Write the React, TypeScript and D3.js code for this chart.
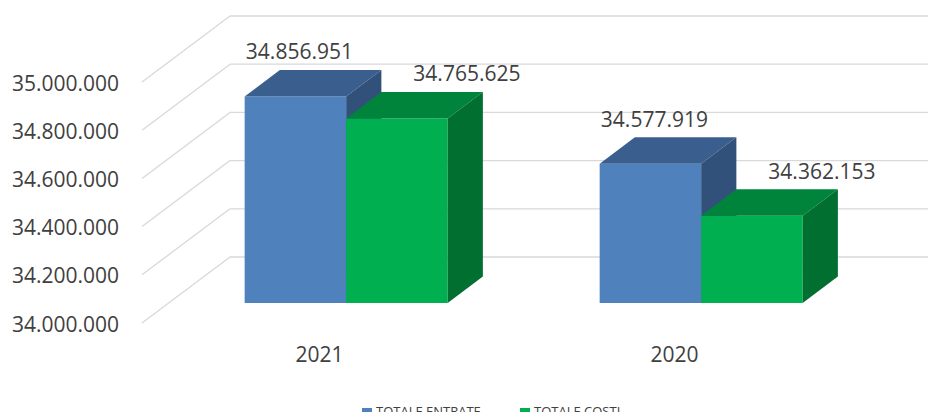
import React from "react";
import * as d3 from "d3";

const categories = ["2021", "2020"];
const seriesNames = ["TOTALE ENTRATE", "TOTALE COSTI"];
const entrate = [34856951, 34577919];
const costi = [34765625, 34362153];
const yTicks = [34000000, 34200000, 34400000, 34600000, 34800000, 35000000];

const W = 928;
const H = 412;
const FONT = "'Open Sans', sans-serif";
const TEXT = "#404040";
const GRID = "#d9d9d9";

// depth of the whole plot (front plane -> back wall)
const DX = 88;
const DY = -66;
// bar placement in depth
const T0 = 0.303;
const TD = 0.4;

const palettes = [
  { front: "#4f81bd", top: "#3a5f8e", side: "#31517a" },
  { front: "#00b050", top: "#00843c", side: "#006f30" },
];

const fmt = (v: number) => d3.format(",")(v).replace(/,/g, ".");

export default function App() {
  const y = d3.scaleLinear().domain([34000000, 35000000]).range([323, 82]);
  const x = d3.scaleBand().domain(categories).range([142, 852]).padding(0);
  const barW = 101.5;
  const px = (fx: number, t: number) => fx + t * DX;
  const py = (fy: number, t: number) => fy + t * DY;
  const series = [entrate, costi];

  const bars: React.ReactNode[] = [];
  const labels: React.ReactNode[] = [];
  categories.forEach((c, ci) => {
    const center = x(c)! + x.bandwidth() / 2;
    series.forEach((vals, si) => {
      const v = vals[ci];
      const x0 = center - barW + si * barW;
      const x1 = x0 + barW;
      const yb = y(34000000);
      const yt = y(v);
      const p = palettes[si];
      const t1 = T0 + TD;
      const P = (fx: number, fy: number, t: number) => `${px(fx, t)},${py(fy, t)}`;
      const front = [P(x0, yt, T0), P(x1, yt, T0), P(x1, yb, T0), P(x0, yb, T0)].join(" ");
      const top = [P(x0, yt, T0), P(x0, yt, t1), P(x1, yt, t1), P(x1, yt, T0)].join(" ");
      const side = [P(x1, yt, T0), P(x1, yt, t1), P(x1, yb, t1), P(x1, yb, T0)].join(" ");
      bars.push(
        <g key={`b-${ci}-${si}`}>
          <polygon points={front} fill={p.front} />
          <polygon points={top} fill={p.top} />
          <polygon points={side} fill={p.side} />
        </g>
      );
      const lx = px((x0 + x1) / 2, T0) + (si === 0 ? 4 : 70);
      labels.push(
        <text
          key={`l-${ci}-${si}`}
          x={lx}
          y={py(yt, T0) - 37}
          textAnchor="middle"
          fontSize={21}
          fill={TEXT}
          fontFamily={FONT}
        >
          {fmt(v)}
        </text>
      );
    });
  });

  const x0 = x.range()[0];
  const xEnd = x.range()[1];

  return (
    <svg
      width={W}
      height={H}
      style={{ position: "absolute", left: 0, top: 0, background: "#fff" }}
    >
      <rect width={W} height={H} fill="#fff" />
      {yTicks.map((t) => (
        <g key={t} stroke={GRID} strokeWidth={1.3} fill="none">
          <line x1={x0} y1={y(t)} x2={x0 + DX} y2={y(t) + DY} />
          <line x1={x0 + DX} y1={y(t) + DY} x2={xEnd + DX} y2={y(t) + DY} />
        </g>
      ))}
      {yTicks.map((t) => (
        <text
          key={`t-${t}`}
          x={119}
          y={y(t) + 8.5}
          textAnchor="end"
          fontSize={21}
          fill={TEXT}
          fontFamily={FONT}
        >
          {fmt(t)}
        </text>
      ))}
      {bars}
      {labels}
      {categories.map((c) => (
        <text
          key={`c-${c}`}
          x={x(c)! + x.bandwidth() / 2}
          y={y(34000000) + 38.7}
          textAnchor="middle"
          fontSize={21}
          fill={TEXT}
          fontFamily={FONT}
        >
          {c}
        </text>
      ))}
      <g fontFamily={FONT} fontSize={13} fill={TEXT}>
        <rect x={362} y={408} width={10} height={10} fill={palettes[0].front} />
        <text x={376} y={415.5}>{seriesNames[0]}</text>
        <rect x={520} y={408} width={10} height={10} fill={palettes[1].front} />
        <text x={534} y={415.5}>{seriesNames[1]}</text>
      </g>
    </svg>
  );
}
